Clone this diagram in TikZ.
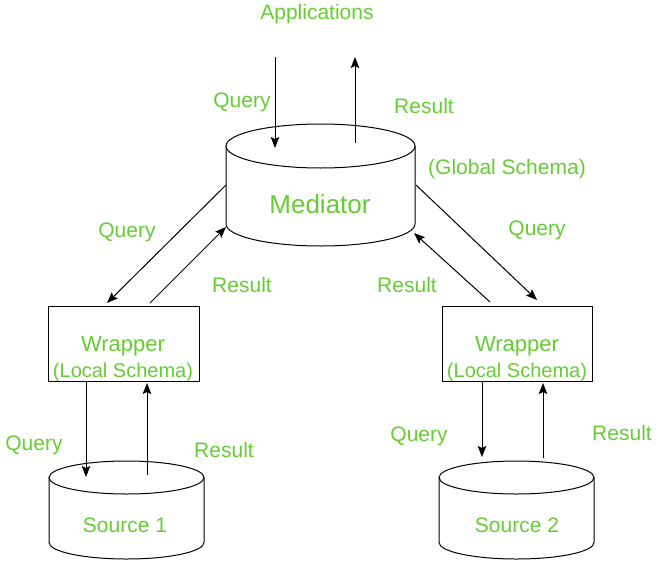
\documentclass[tikz,border=0pt]{standalone}
\usepackage{fontspec}
\setmainfont{Liberation Sans}
\usetikzlibrary{arrows.meta}
\definecolor{lblgreen}{RGB}{102,204,51}
\begin{document}
\begin{tikzpicture}[x=1pt,y=-1pt,
  lbl/.style={text=lblgreen, font=\fontsize{21}{24}\selectfont, inner sep=0pt, anchor=base},
  bigl/.style={lbl, font=\fontsize{26}{30}\selectfont},
  wrapl/.style={lbl, font=\fontsize{22}{26}\selectfont},
  smalll/.style={lbl, font=\fontsize{20}{24}\selectfont},
  wrapbox/.style={draw, line width=1pt, inner sep=0pt},
  outline/.style={line width=1pt},
  arr/.style={-{Stealth[length=11pt,width=8.5pt,inset=2pt]}, line width=1pt}]
\useasboundingbox (0,0) rectangle (658,562);
% cylinders
\newcommand\mycyl[6]{% cx, rx, top y, bottom y, ry, name
  \node[inner sep=0pt, minimum width=2*#2 pt, minimum height={(#4-#3)*1pt}] (#6) at (#1,{(#3+#4)/2}) {};
  \draw[outline] (#1,#3) ellipse [x radius=#2pt, y radius=#5pt];
  \draw[outline] ({#1-#2},#3) -- ({#1-#2},#4) arc[start angle=180, end angle=360, x radius=#2pt, y radius=#5pt] -- ({#1+#2},#3);
}
\mycyl{320.5}{94.5}{146}{224}{22}{med}
\mycyl{126.5}{77.5}{477.5}{542.5}{16.5}{src1}
\mycyl{516.5}{77.5}{477.5}{542.5}{16.5}{src2}
% wrappers
\node[wrapbox, minimum width=151pt, minimum height=75pt] (wrapL) at (123.5,343.5) {};
\node[wrapbox, minimum width=150pt, minimum height=75pt] (wrapR) at (517,343.5) {};
% texts
\node[lbl] (app) at (317,19) {Applications};
\node[lbl] (qtop) at (242,107) {Query};
\node[lbl] (rtop) at (424,113) {Result};
\node[lbl] (gs) at (507,174) {(Global Schema)};
\node[bigl] (medt) at (320,213) {Mediator};
\node[lbl] (ql) at (127,237) {Query};
\node[lbl] (rl) at (242,292) {Result};
\node[lbl] (qr) at (537,235) {Query};
\node[lbl] (rr) at (407,292) {Result};
\node[wrapl] (wl1) at (123,351) {Wrapper};
\node[smalll] (wl2) at (123,377) {(Local Schema)};
\node[wrapl] (wr1) at (517,351) {Wrapper};
\node[smalll] (wr2) at (517,377) {(Local Schema)};
\node[lbl] (qll) at (34,450) {Query};
\node[lbl] (rll) at (224,457) {Result};
\node[lbl] (qrr) at (419,441) {Query};
\node[lbl] (rrr) at (622,440) {Result};
\node[lbl] (s1) at (125,532) {Source 1};
\node[lbl] (s2) at (517,532) {Source 2};
% connector end points
\coordinate (a1) at (275,57);   \coordinate (a2) at (275,148);
\coordinate (b1) at (355,143);  \coordinate (b2) at (355,57);
\coordinate (c1) at (226,185);  \coordinate (c2) at (107,303);
\coordinate (d1) at (150,303);  \coordinate (d2) at (226,227);
\coordinate (e1) at (416,185);  \coordinate (e2) at (537,300);
\coordinate (f1) at (490,302);  \coordinate (f2) at (414,233);
\coordinate (g1) at (86,381);   \coordinate (g2) at (86,477);
\coordinate (h1) at (147,475);  \coordinate (h2) at (147,383);
\coordinate (i1) at (482,381);  \coordinate (i2) at (482,457);
\coordinate (j1) at (543,458);  \coordinate (j2) at (543,383);
\draw[arr] (a1) -- (a2);
\draw[arr] (b1) -- (b2);
\draw[arr] (c1) -- (c2);
\draw[arr] (d1) -- (d2);
\draw[arr] (e1) -- (e2);
\draw[arr] (f1) -- (f2);
\draw[arr] (g1) -- (g2);
\draw[arr] (h1) -- (h2);
\draw[arr] (i1) -- (i2);
\draw[arr] (j1) -- (j2);
\end{tikzpicture}
\end{document}
